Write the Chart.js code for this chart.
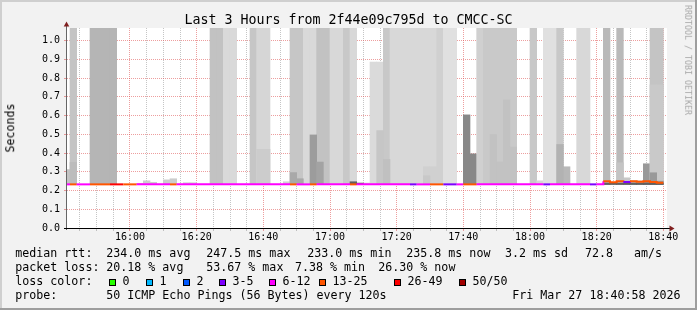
<!DOCTYPE html>
<html><head><meta charset="utf-8">
<script src="https://cdn.jsdelivr.net/npm/chart.js@4/dist/chart.umd.min.js"></script>
<style>
html,body{margin:0;padding:0;background:#f2f2f2;}
#wrap{position:relative;width:697px;height:310px;overflow:hidden;font-family:'DejaVu Sans Mono',monospace;color:#000;}
#c{position:absolute;left:0;top:0;}
.t{position:absolute;white-space:pre;line-height:1;font-size:11.65px;}
.sw{position:absolute;width:5px;height:5px;border:1px solid #000;top:279px;}
</style></head><body>
<div id="wrap">
<canvas id="c" width="697" height="310"></canvas>
<div class="t" style="left:0;width:697px;text-align:center;top:12.6px;font-size:13.3px;">Last 3 Hours from 2f44e09c795d to CMCC-SC</div>
<div class="t" style="left:11px;top:127.5px;transform:translate(-50%,-50%) rotate(-90deg);">Seconds</div>
<div class="t" style="left:687.5px;top:60px;font-size:8.3px;color:#a8a8a8;transform:translate(-50%,-50%) rotate(90deg);">RRDTOOL / TOBI OETIKER</div>
<div id="legend"></div>
</div>
<script>
// ---- data ----
const binStart = [
 '15:40','15:42','15:44','15:46','15:48','15:50','15:52','15:54','15:56','15:58',
 '16:00','16:02','16:04','16:06','16:08','16:10','16:12','16:14','16:16','16:18',
 '16:20','16:22','16:24','16:26','16:28','16:30','16:32','16:34','16:36','16:38',
 '16:40','16:42','16:44','16:46','16:48','16:50','16:52','16:54','16:56','16:58',
 '17:00','17:02','17:04','17:06','17:08','17:10','17:12','17:14','17:16','17:18',
 '17:20','17:22','17:24','17:26','17:28','17:30','17:32','17:34','17:36','17:38',
 '17:40','17:42','17:44','17:46','17:48','17:50','17:52','17:54','17:56','17:58',
 '18:00','18:02','18:04','18:06','18:08','18:10','18:12','18:14','18:16','18:18',
 '18:20','18:22','18:24','18:26','18:28','18:30','18:32','18:34','18:36','18:38'];
const binEnd = '18:40';
const minRtt = 0.232;
const medianRtt = [
 0.233,0.233,0.233,0.233,0.233,0.233,0.233,0.233,0.233,0.233,
 0.233,0.233,0.233,0.233,0.233,0.233,0.233,0.233,0.233,0.233,
 0.233,0.233,0.233,0.233,0.233,0.233,0.233,0.233,0.233,0.233,
 0.233,0.233,0.233,0.233,0.233,0.233,0.233,0.233,0.233,0.233,
 0.233,0.233,0.233,0.233,0.233,0.233,0.233,0.233,0.233,0.233,
 0.233,0.233,0.233,0.233,0.233,0.233,0.233,0.233,0.233,0.233,
 0.233,0.233,0.233,0.233,0.233,0.233,0.233,0.233,0.233,0.233,
 0.233,0.233,0.233,0.233,0.233,0.233,0.233,0.233,0.233,0.233,
 0.233,0.249,0.244,0.249,0.245,0.249,0.247,0.249,0.245,0.241];
const lostPings = [
 9,16,9,9,16,16,16,28,28,16,
 16,9,9,9,9,9,16,9,9,9,
 9,9,9,9,9,9,9,9,9,9,
 9,9,9,9,16,9,9,16,9,9,
 9,9,9,16,9,9,9,9,9,9,
 9,9,4,9,9,16,16,4,4,9,
 16,16,9,9,9,9,9,9,9,9,
 9,9,4,9,9,9,9,9,9,4,
 9,16,16,16,4,16,16,16,16,16];
const T = 1.2; // smoke above the plotted range
const outerTop = [
 0.312,T,null,null,T,T,T,T,null,null,
 null,0.238,0.252,0.244,null,0.257,0.263,null,0.242,0.242,
 null,null,T,T,T,T,null,null,T,T,
 T,null,null,0.247,T,T,T,T,T,T,
 T,T,T,T,null,0.240,0.886,0.886,T,T,
 T,T,T,T,T,T,T,T,T,null,
 0.604,0.396,T,T,T,T,T,T,null,null,
 T,0.252,T,T,T,0.327,null,T,T,null,
 null,T,null,T,0.268,0.252,0.252,0.343,T,T];
const outerShade = [
 196,196,null,null,181,181,181,181,null,null,
 null,204,204,204,null,204,204,null,210,210,
 null,null,194,194,217,217,null,null,198,214,
 214,null,null,210,198,198,217,217,194,194,
 216,216,200,216,null,210,218,218,200,216,
 216,216,216,216,216,216,208,224,224,null,
 136,136,208,201,201,201,201,201,null,null,
 200,214,224,224,200,184,null,216,216,null,
 null,185,null,185,200,192,192,153,196,196];
const midTop = [
 null,null,null,null,null,null,null,null,null,null,
 null,null,null,null,null,null,null,null,null,null,
 null,null,null,null,null,null,null,null,null,0.42,
 0.42,null,null,null,null,null,null,null,null,null,
 null,null,null,null,null,null,null,null,null,null,
 null,null,null,null,0.327,0.327,null,null,null,null,
 null,null,null,null,null,null,null,null,null,null,
 null,null,null,null,null,null,null,null,null,null,
 null,null,null,0.348,null,null,null,null,0.764,0.764];
const midShade = [
 null,null,null,null,null,null,null,null,null,null,
 null,null,null,null,null,null,null,null,null,null,
 null,null,null,null,null,null,null,null,null,204,
 204,null,null,null,null,null,null,null,null,null,
 null,null,null,null,null,null,null,null,null,null,
 null,null,null,null,208,208,null,null,null,null,
 null,null,null,null,null,null,null,null,null,null,
 null,null,null,null,null,null,null,null,null,null,
 null,null,null,196,null,null,null,null,201,201];
const innerTop = [
 null,0.35,null,null,null,null,null,null,null,null,
 null,null,null,null,null,null,null,null,null,null,
 null,null,null,null,null,null,null,null,null,null,
 null,null,null,null,0.296,0.263,null,0.497,0.352,null,
 null,null,null,null,null,null,null,0.52,0.366,null,
 null,null,null,null,0.279,null,null,null,null,null,
 null,null,null,null,0.499,0.353,0.684,0.432,null,null,
 null,null,null,null,0.446,null,null,null,null,null,
 null,null,null,null,null,null,null,null,0.295,0.25];
const innerShade = [
 null,188,null,null,null,null,null,null,null,null,
 null,null,null,null,null,null,null,null,null,null,
 null,null,null,null,null,null,null,null,null,null,
 null,null,null,null,169,169,null,156,163,null,
 null,null,null,null,null,null,null,198,192,null,
 null,null,null,null,200,null,null,null,null,null,
 null,null,null,null,194,194,194,194,null,null,
 null,null,null,null,178,null,null,null,null,null,
 null,null,null,null,null,null,null,null,153,153];
const coreTop = [
 null,null,null,null,null,null,null,null,null,null,
 null,null,null,null,null,null,null,null,null,null,
 null,null,null,null,null,null,null,null,null,null,
 null,null,null,null,null,null,null,null,null,null,
 null,null,null,0.247,0.240,null,null,null,null,null,
 null,null,null,null,null,null,null,null,null,null,
 null,null,null,null,null,null,null,null,null,null,
 null,null,null,null,null,null,null,null,null,null,
 null,0.240,0.240,0.240,0.240,0.240,0.240,0.240,0.240,0.240];
const yTickLabels = ['0.0','0.1','0.2','0.3','0.4','0.5','0.6','0.7','0.8','0.9','1.0'];
const xTickLabels = ['16:00','16:20','16:40','17:00','17:20','17:40','18:00','18:20','18:40'];
const lossLabels = ['0','1','2','3-5','6-12','13-25','26-49','50/50'];
const lossUpper  = [0,1,2,5,12,25,49,50];
const lossColors = ['#26ff00','#00b8ff','#0059ff','#7e00ff','#ff00ff','#ff5500','#ff0000','#a10000'];

// ---- helpers ----
const toMin = s => { const [h,m] = s.split(':').map(Number); return h*60+m; };
const X_MIN = 941.1, X_MAX = 1121.1, Y_MAX = 1.0678;
const binMin = binStart.map(toMin);
const centers = binMin.map(m => m + 1);
const grey = g => `rgb(${g},${g},${g})`;
const lossColor = n => { for (let i=0;i<lossUpper.length;i++) if (n<=lossUpper[i]) return lossColors[i]; return lossColors[lossColors.length-1]; };
const fmt = m => String(Math.floor(m/60)).padStart(2,'0')+':'+String(m%60).padStart(2,'0');
const xLabelMap = {}; xTickLabels.forEach(l => xLabelMap[toMin(l)] = l);

function smokeLayer(tops, shades, order, fixedShade) {
  const data = [], colors = [];
  tops.forEach((t,i) => { if (t != null) { data.push({x: centers[i], y: [minRtt, t]}); colors.push(grey(fixedShade != null ? fixedShade : shades[i])); } });
  return {type:'bar', data, backgroundColor: colors, borderWidth: 0, grouped: false,
          barPercentage: 1, categoryPercentage: 1, order, clip: 0};
}
const medianPts = binMin.map((m,i) => ({x: m, y: medianRtt[i]}));
medianPts.push({x: toMin(binEnd), y: medianRtt[medianRtt.length-1]});

const gridMinutes = [];
for (let m = Math.ceil(X_MIN/5)*5; m <= X_MAX; m += 5) gridMinutes.push(m);

const FONT = {family: "'DejaVu Sans Mono', monospace", size: 10};
const MINOR = 'rgba(150,150,150,0.55)', MAJOR = 'rgba(222,79,79,0.55)';

const framePlugin = {
  id: 'frame',
  beforeDraw(c) {
    const {ctx, chartArea: a} = c;
    ctx.save();
    ctx.fillStyle = '#f2f2f2'; ctx.fillRect(0,0,c.width,c.height);
    ctx.fillStyle = '#cfcfcf'; ctx.fillRect(0,0,c.width,2); ctx.fillRect(0,0,2,c.height);
    ctx.fillStyle = '#9e9e9e'; ctx.fillRect(0,c.height-2,c.width,2); ctx.fillRect(c.width-2,0,2,c.height);
    ctx.fillStyle = '#ffffff'; ctx.fillRect(a.left, a.top, a.right-a.left, a.bottom-a.top);
    ctx.restore();
  },
  afterDraw(c) {
    const {ctx, chartArea: a} = c;
    ctx.save();
    ctx.lineWidth = 1;
    ctx.strokeStyle = '#666';
    ctx.beginPath(); ctx.moveTo(a.left-0.5, a.bottom+2); ctx.lineTo(a.left-0.5, a.top-2); ctx.stroke();
    ctx.strokeStyle = '#000';
    ctx.beginPath(); ctx.moveTo(a.left-3, a.bottom+0.5); ctx.lineTo(a.right+3, a.bottom+0.5); ctx.stroke();
    ctx.fillStyle = '#801f1f';
    ctx.beginPath(); ctx.moveTo(a.left-3.3, a.top-1.5); ctx.lineTo(a.left+2.3, a.top-1.5); ctx.lineTo(a.left-0.5, a.top-6.5); ctx.closePath(); ctx.fill();
    ctx.beginPath(); ctx.moveTo(a.right+2.5, a.bottom-2.5); ctx.lineTo(a.right+2.5, a.bottom+3.5); ctx.lineTo(a.right+7.5, a.bottom+0.5); ctx.closePath(); ctx.fill();
    ctx.restore();
  }
};

new Chart(document.getElementById('c'), {
  type: 'line',
  data: { datasets: [
    smokeLayer(outerTop, outerShade, 5),
    smokeLayer(midTop, midShade, 4),
    smokeLayer(innerTop, innerShade, 3),
    smokeLayer(coreTop, null, 2, 96),
    { type: 'line', data: medianPts, stepped: true, borderWidth: 2, pointRadius: 0, order: 0, clip: 0,
      borderCapStyle: 'butt',
      borderColor: lossColor(lostPings[0]),
      segment: { borderColor: s => lossColor(lostPings[Math.min(s.p0DataIndex, lostPings.length-1)]) } }
  ]},
  options: {
    responsive: false, animation: false, devicePixelRatio: 1,
    layout: { padding: {left: 0, top: 28, right: 30, bottom: 62} },
    plugins: { legend: {display: false}, tooltip: {enabled: false}, title: {display: false} },
    scales: {
      x: { type: 'linear', min: X_MIN, max: X_MAX, offset: false, z: 1,
        afterBuildTicks: s => { s.ticks = gridMinutes.map(v => ({value: v})); },
        afterFit: s => { s.height = 20; },
        ticks: { autoSkip: false, maxRotation: 0, minRotation: 0, padding: 0.5, color: '#000', font: FONT,
          callback: v => xLabelMap[v] || '' },
        grid: { offset: false, lineWidth: 1, tickLength: 3,
          color: c => (c.tick && c.tick.value % 20 === 0) ? MAJOR : MINOR },
        border: { display: false, dash: [1,1] } },
      y: { type: 'linear', min: 0, max: Y_MAX, z: 1,
        afterBuildTicks: s => { s.ticks = yTickLabels.map(l => ({value: parseFloat(l)})); },
        afterFit: s => { s.width = 67; },
        ticks: { padding: 4, color: '#000', font: FONT, callback: v => v.toFixed(1) },
        grid: { lineWidth: 1, tickLength: 3, color: MAJOR },
        border: { display: false, dash: [1,1] } }
    }
  },
  plugins: [framePlugin]
});

// ---- text legend ----
const leg = document.getElementById('legend');
const rows = [
  [248.4, [[15.3,'median rtt:'],[106.3,'234.0 ms avg'],[206.3,'247.5 ms max'],[307.3,'233.0 ms min'],[406.3,'235.8 ms now'],[505,'3.2 ms sd'],[585,'72.8   am/s']]],
  [262.1, [[15.3,'packet loss:'],[106.3,'20.18 % avg'],[206.3,'53.67 % max'],[295,'7.38 % min'],[378.3,'26.30 % now']]],
  [275.8, [[15.3,'loss color:']]],
  [289.5, [[15.3,'probe:'],[106.3,'50 ICMP Echo Pings (56 Bytes) every 120s'],[512.3,'Fri Mar 27 18:40:58 2026']]]
];
rows.forEach(([top, items]) => items.forEach(([x, s]) => {
  const d = document.createElement('div'); d.className = 't'; d.style.left = x+'px'; d.style.top = top+'px'; d.textContent = s; leg.appendChild(d);
}));
const swatchX = [109,146,183,219,269,319,394,459];
lossLabels.forEach((l,i) => {
  const b = document.createElement('div'); b.className = 'sw'; b.style.left = swatchX[i]+'px'; b.style.background = lossColors[i]; leg.appendChild(b);
  const d = document.createElement('div'); d.className = 't'; d.style.left = (swatchX[i]+13.4)+'px'; d.style.top = '275.8px'; d.textContent = l; leg.appendChild(d);
});
</script>
</body></html>
